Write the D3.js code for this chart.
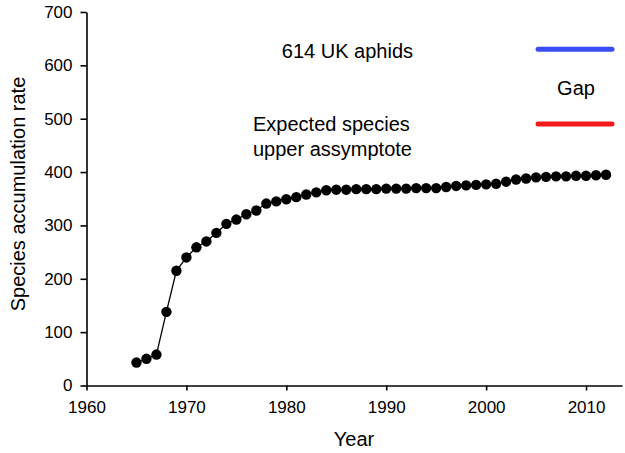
<!DOCTYPE html>
<html><head><meta charset="utf-8">
<script src="https://cdn.jsdelivr.net/npm/d3@7"></script>
<style>body{margin:0;background:#fff}svg{display:block}text{font-family:"Liberation Sans",Arial,sans-serif}</style>
</head><body>
<script>
const years = d3.range(1965, 2013);
const species = [43,50,58,138,215,240,259,270,286,303,311,321,328,341,345,349,353,358,362,366,367,367,368,368,368,369,369,369,370,370,370,372,374,375,376,377,378,382,386,388,390,391,392,392,393,393,394,395];
const xTicks = [1960,1970,1980,1990,2000,2010];
const yTicks = [0,100,200,300,400,500,600,700];
const refLines = [{label:"614 UK aphids", value:630, color:"#3a4df5"},{label:"Expected species upper assymptote", value:490, color:"#f41a1a"}];
const refSpan = [2005.2, 2012.6];

const W=625,H=453;
const svg=d3.select("body").append("svg").attr("width",W).attr("height",H);
const x=d3.scaleLinear().domain([1960,2013.6]).range([86.5,622]);
const y=d3.scaleLinear().domain([0,700]).range([385.5,12]);

const xa=svg.append("g").attr("transform","translate(0,385.5)")
 .call(d3.axisBottom(x).tickValues(xTicks).tickFormat(d3.format("d")).tickSizeInner(5).tickSizeOuter(0).tickPadding(6));
const ya=svg.append("g").attr("transform","translate(86.5,0)")
 .call(d3.axisLeft(y).tickValues(yTicks).tickSizeInner(6).tickSizeOuter(0).tickPadding(8));
[xa,ya].forEach(a=>{a.selectAll("path,line").attr("stroke","#000").attr("stroke-width",1.6);
 a.selectAll("text").attr("font-size",17).attr("fill","#000").style("font-family","'Liberation Sans',Arial,sans-serif");});
xa.selectAll("text").attr("dy","0.95em");

svg.append("text").attr("x",354).attr("y",446).attr("text-anchor","middle").attr("font-size",20).text("Year");
svg.append("text").attr("transform","translate(25,194) rotate(-90)").attr("text-anchor","middle").attr("font-size",20).text("Species accumulation rate");

const pts=years.map((yr,i)=>[yr,species[i]]);
svg.append("path").datum(pts).attr("fill","none").attr("stroke","#000").attr("stroke-width",1.3)
 .attr("d",d3.line().x(d=>x(d[0])).y(d=>y(d[1])));
svg.selectAll("circle.p").data(pts).enter().append("circle").attr("cx",d=>x(d[0])).attr("cy",d=>y(d[1])).attr("r",5.2).attr("fill","#000");

svg.selectAll("line.ref").data(refLines).enter().append("line")
 .attr("x1",x(refSpan[0])).attr("x2",x(refSpan[1])).attr("y1",d=>y(d.value)).attr("y2",d=>y(d.value))
 .attr("stroke",d=>d.color).attr("stroke-width",5).attr("stroke-linecap","round");

svg.append("text").attr("x",413).attr("y",58).attr("text-anchor","end").attr("font-size",20).text(refLines[0].label);
svg.append("text").attr("x",576).attr("y",95).attr("text-anchor","middle").attr("font-size",20).text("Gap");
const t=svg.append("text").attr("x",253).attr("y",131).attr("text-anchor","start").attr("font-size",20);
t.append("tspan").attr("x",253).text("Expected species");
t.append("tspan").attr("x",253).attr("dy",25).text("upper assymptote");
</script>
</body></html>
